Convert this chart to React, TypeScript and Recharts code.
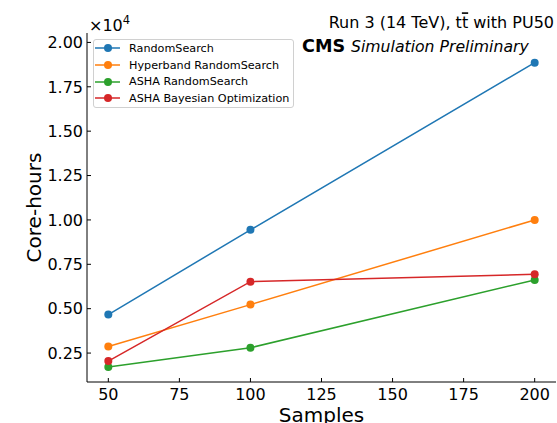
import { Legend, Line, LineChart, XAxis, YAxis } from "recharts";

const samples = [50, 100, 200];
const randomSearch = [4670, 9440, 18860];
const hyperbandRandom = [2870, 5230, 10000];
const ashaRandom = [1710, 2800, 6620];
const ashaBayes = [2050, 6520, 6940];

const xTicks = [50, 75, 100, 125, 150, 175, 200];
const yTicks = [2500, 5000, 7500, 10000, 12500, 15000, 17500, 20000];

const series = [
  { key: "rs", name: "RandomSearch", color: "#1f77b4", values: randomSearch },
  { key: "hb", name: "Hyperband RandomSearch", color: "#ff7f0e", values: hyperbandRandom },
  { key: "ashaRs", name: "ASHA RandomSearch", color: "#2ca02c", values: ashaRandom },
  { key: "ashaBo", name: "ASHA Bayesian Optimization", color: "#d62728", values: ashaBayes },
];

const data = samples.map((s, i) => {
  const row: Record<string, number> = { samples: s };
  series.forEach((ser) => {
    row[ser.key] = ser.values[i];
  });
  return row;
});

const FONT = "DejaVu Sans";

const XTick = ({ x, y, payload }: any) => (
  <g>
    <line x1={x} x2={x} y1={y} y2={y - 4} stroke="#000" />
    <text x={x} y={y + 17.5} textAnchor="middle" fontSize={16} fontFamily={FONT} fill="#000">
      {payload.value}
    </text>
  </g>
);

const YTick = ({ x, y, payload }: any) => (
  <g>
    <line x1={x} x2={x + 4} y1={y} y2={y} stroke="#000" />
    <text x={x - 4} y={y + 5.8} textAnchor="end" fontSize={16} fontFamily={FONT} fill="#000">
      {(payload.value / 10000).toFixed(2)}
    </text>
  </g>
);

const LegendBox = () => (
  <div
    style={{
      width: 201,
      height: 69,
      boxSizing: "border-box",
      border: "1px solid #d0d0d0",
      borderRadius: 3,
      background: "rgba(255,255,255,0.8)",
      fontFamily: FONT,
      fontSize: 11.2,
      color: "#000",
    }}
  >
    {series.map((s) => (
      <div key={s.key} style={{ height: 16.7, display: "flex", alignItems: "center" }}>
        <svg width={35} height={16} style={{ flex: "none" }}>
          <line x1={1} x2={26} y1={8} y2={8} stroke={s.color} strokeWidth={1.5} />
          <circle cx={14} cy={8} r={4} fill={s.color} />
        </svg>
        <span style={{ whiteSpace: "nowrap" }}>{s.name}</span>
      </div>
    ))}
  </div>
);

const App = () => {
  return (
    <div style={{ position: "absolute", left: 0, top: 0, width: 557, height: 423 }}>
      <LineChart width={557} height={423} data={data} margin={{ top: 33, right: 1, bottom: 0, left: 0 }}>
        <XAxis
          dataKey="samples"
          type="number"
          domain={[42.5, 207.5]}
          ticks={xTicks}
          height={41}
          tickSize={0}
          tickMargin={0}
          tickLine={false}
          tick={<XTick />}
          axisLine={{ stroke: "#000" }}
          label={{
            content: ({ viewBox }: any) => (
              <text
                x={viewBox.x + viewBox.width / 2}
                y={viewBox.y + 39.5}
                textAnchor="middle"
                fontSize={20}
                fontFamily={FONT}
                fill="#000"
              >
                Samples
              </text>
            ),
          }}
        />
        <XAxis
          xAxisId="top"
          orientation="top"
          dataKey="samples"
          type="number"
          domain={[42.5, 207.5]}
          height={0}
          tick={false}
          tickLine={false}
          axisLine={{ stroke: "#000" }}
        />
        <YAxis
          type="number"
          domain={[870, 20530]}
          ticks={yTicks}
          width={87}
          tickSize={0}
          tickMargin={0}
          tickLine={false}
          tick={<YTick />}
          axisLine={{ stroke: "#000" }}
          allowDataOverflow
          label={{
            content: ({ viewBox }: any) => {
              const cx = viewBox.x + 41;
              const cy = viewBox.y + viewBox.height / 2;
              return (
                <text
                  x={cx}
                  y={cy}
                  transform={`rotate(-90 ${cx} ${cy})`}
                  textAnchor="middle"
                  fontSize={20}
                  fontFamily={FONT}
                  fill="#000"
                >
                  Core-hours
                </text>
              );
            },
          }}
        />
        <YAxis
          yAxisId="right"
          orientation="right"
          type="number"
          domain={[870, 20530]}
          width={0}
          tick={false}
          tickLine={false}
          axisLine={{ stroke: "#000" }}
        />
        <Legend
          layout="vertical"
          align="center"
          verticalAlign="middle"
          content={<LegendBox />}
          wrapperStyle={{ left: 93, top: 39, width: 201, height: 69 }}
        />
        {series.map((s) => (
          <Line
            key={s.key}
            type="linear"
            dataKey={s.key}
            name={s.name}
            stroke={s.color}
            strokeWidth={1.5}
            dot={{ r: 4, fill: s.color, stroke: "none" }}
            activeDot={false}
            isAnimationActive={false}
          />
        ))}
      </LineChart>
      <svg
        width={557}
        height={60}
        style={{ position: "absolute", left: 0, top: 0, pointerEvents: "none" }}
        fontFamily={FONT}
      >
        <text x={89} y={30.5} fontSize={16} fill="#000">
          ×10
          <tspan dy={-7} fontSize={11.5}>
            4
          </tspan>
        </text>
        <text x={554} y={28.3} textAnchor="end" fontSize={16} fill="#000">
          Run 3 (14 TeV), t<tspan style={{ textDecoration: "overline" }}>t</tspan> with PU50
        </text>
        <text x={302} y={52} fontSize={17.6} fontWeight="bold" fill="#000">
          CMS
        </text>
        <text x={351} y={52} fontSize={15.7} fontStyle="italic" fill="#000">
          Simulation Preliminary
        </text>
      </svg>
    </div>
  );
};

export default App;
